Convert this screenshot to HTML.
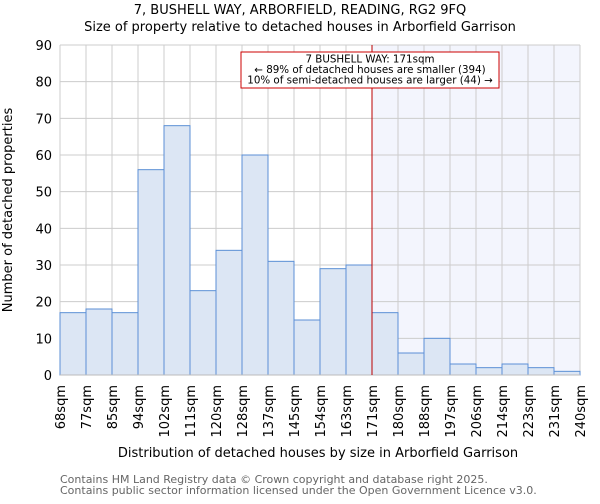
<!DOCTYPE html>
<html><head><meta charset="utf-8"><style>
body{margin:0;background:#fff;font-family:"DejaVu Sans","Liberation Sans",sans-serif}
svg text{font-family:"DejaVu Sans","Liberation Sans",sans-serif;fill:#000}
</style></head><body>
<svg id="chart" width="600" height="500" xmlns="http://www.w3.org/2000/svg">
<text x="300" y="14" text-anchor="middle" font-size="13">7, BUSHELL WAY, ARBORFIELD, READING, RG2 9FQ</text>
<text x="300" y="31" text-anchor="middle" font-size="13">Size of property relative to detached houses in Arborfield Garrison</text>
<g id="grid"></g><g id="bars"></g><g id="axes"></g>
<text transform="translate(12,210) rotate(-90)" text-anchor="middle" font-size="13">Number of detached properties</text>
<text x="318" y="457" text-anchor="middle" font-size="13">Distribution of detached houses by size in Arborfield Garrison</text>
<text x="60" y="483" font-size="11" style="fill:#666">Contains HM Land Registry data © Crown copyright and database right 2025.</text>
<text x="60" y="494" font-size="11" style="fill:#666">Contains public sector information licensed under the Open Government Licence v3.0.</text>
</svg>
<script>
const categories=["68sqm","77sqm","85sqm","94sqm","102sqm","111sqm","120sqm","128sqm","137sqm","145sqm","154sqm","163sqm","171sqm","180sqm","188sqm","197sqm","206sqm","214sqm","223sqm","231sqm","240sqm"];
const counts=[17,18,17,56,68,23,34,60,31,15,29,30,17,6,10,3,2,3,2,1];
const yTicks=[0,10,20,30,40,50,60,70,80,90];
const markerIndex=12;
const annotation=["7 BUSHELL WAY: 171sqm","← 89% of detached houses are smaller (394)","10% of semi-detached houses are larger (44) →"];
const NS="http://www.w3.org/2000/svg";
const L=60,R=580,T=45,B=375,yMax=90;
const bw=(R-L)/(categories.length-1);
const xs=i=>L+i*bw, ys=v=>B-(v/yMax)*(B-T);
function mk(tag,attrs,parent,txt){const e=document.createElementNS(NS,tag);for(const k in attrs)e.setAttribute(k,attrs[k]);if(txt!==undefined)e.textContent=txt;parent.appendChild(e);return e;}
const grid=document.getElementById('grid'),bars=document.getElementById('bars'),axes=document.getElementById('axes');
let sh=mk('rect',{x:xs(markerIndex),y:T,width:R-xs(markerIndex),height:B-T,fill:'#f3f5fd'},grid);


yTicks.forEach(v=>{
 let g=mk('line',{x1:L,x2:R,y1:ys(v),y2:ys(v),stroke:'#cccccc'},grid);
 
 
 let t=mk('text',{x:L-8,y:ys(v)+5,'text-anchor':'end','font-size':13},axes,v);
 
 
});
categories.forEach((c,i)=>{
 let g=mk('line',{x1:xs(i),x2:xs(i),y1:T,y2:B,stroke:'#cccccc'},grid);
 
 
 let t=mk('text',{transform:`translate(${xs(i)+5},${B+10}) rotate(-90)`,'text-anchor':'end','font-size':13},axes,c);
 
 
});
counts.forEach((v,i)=>{
 let r=mk('rect',{x:xs(i),y:ys(v),width:bw,height:B-ys(v),fill:'#dce6f4',stroke:'#5b8fd6','stroke-width':1},bars);
 
 
});
let ax=mk('line',{x1:L,x2:R,y1:B,y2:B,stroke:'#bbbbbb'},axes);


let ml=mk('line',{x1:xs(markerIndex),x2:xs(markerIndex),y1:T,y2:B,stroke:'#bb0000','stroke-width':1},axes);


let box=mk('rect',{x:241,y:52,width:258,height:36,fill:'#fff',stroke:'#cc0000','stroke-width':1},axes);


annotation.forEach((s,i)=>{
 let t=mk('text',{x:370,y:62.5+i*10.5,'text-anchor':'middle','font-size':10.3},axes,s);
 
 
});
</script>
</body></html>
